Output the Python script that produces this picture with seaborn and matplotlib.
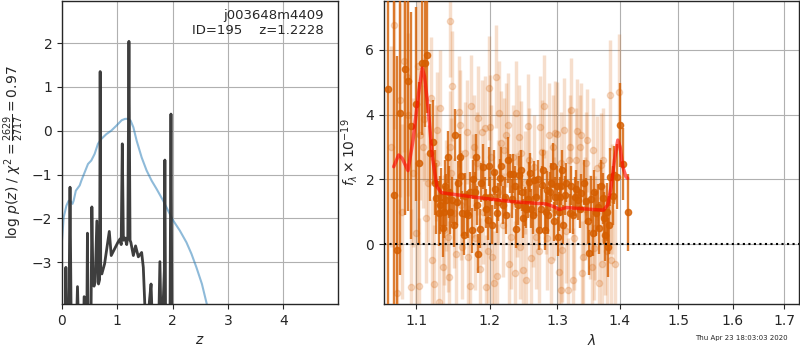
import numpy as np
import pandas as pd
import matplotlib
matplotlib.use("Agg")
import matplotlib.pyplot as plt
import seaborn as sns
from matplotlib.ticker import FormatStrFormatter, NullFormatter, NullLocator

# ---------------- data: left panel (redshift PDF) ----------------
z_pdf = [0.00, 0.05, 0.07, 0.09, 0.12, 0.145, 0.17, 0.25, 0.28, 0.31, 0.38, 0.40, 0.43,
         0.445, 0.46, 0.475, 0.52, 0.54, 0.56, 0.58, 0.60, 0.63, 0.66, 0.68, 0.69, 0.70,
         0.72, 0.77, 0.855, 0.89, 0.95, 1.01, 1.05, 1.07, 1.09, 1.11, 1.14, 1.17, 1.19,
         1.21, 1.23, 1.245, 1.29, 1.33, 1.38, 1.44, 1.47, 1.53, 1.58, 1.61, 1.65, 1.74,
         1.77, 1.80, 1.83, 1.85, 1.86, 1.875, 1.90, 1.95, 1.97, 1.99, 2.01, 2.6, 5.0]
logp = [-5.0, -5.0, -3.12, -5.0, -5.0, -1.29, -5.0, -5.0, -3.56, -5.0, -5.0, -3.79, -3.85,
        -5.0, -2.34, -5.0, -5.0, -1.74, -3.50, -3.55, -3.45, -2.06, -3.50, -3.40, 1.35, -3.20,
        -3.27, -3.04, -2.30, -2.85, -2.70, -2.55, -2.47, -2.60, -0.30, -2.50, -2.45, -2.60, -2.40,
        2.04, -2.50, -2.55, -2.85, -2.63, -2.88, -2.78, -3.12, -5.0, -3.90, -3.50, -5.0, -5.0,
        -2.99, -5.0, -3.90, -3.20, -0.67, -5.0, -5.0, -5.0, 0.38, -5.0, -5.0, -5.0, -5.0]

z_chi = [0.00, 0.03, 0.08, 0.12, 0.16, 0.19, 0.21, 0.25, 0.32, 0.35, 0.41, 0.47, 0.53,
         0.59, 0.65, 0.71, 0.80, 0.89, 0.98, 1.08, 1.14, 1.20, 1.24, 1.29, 1.35, 1.44,
         1.53, 1.62, 1.71, 1.83, 1.92, 2.01, 2.13, 2.25, 2.34, 2.43, 2.53, 2.62, 2.70]
chi_scaled = [-2.50, -1.98, -1.71, -1.60, -1.62, -1.67, -1.60, -1.37, -1.25, -1.14, -0.95,
              -0.76, -0.68, -0.53, -0.30, -0.19, -0.08, 0.00, 0.11, 0.24, 0.27, 0.27, 0.23,
              0.08, -0.23, -0.61, -0.91, -1.14, -1.33, -1.60, -1.83, -2.05, -2.28, -2.55,
              -2.81, -3.12, -3.50, -3.97, -4.60]

# ---------------- data: right panel (spectrum) ----------------
# darker points
wave_a = [1.0641, 1.0712, 1.0754, 1.0797, 1.0861, 1.0895, 1.0930, 1.0995, 1.1038, 1.1073,
          1.1112, 1.1143, 1.1178, 1.1222, 1.1266, 1.1302, 1.1333, 1.1365, 1.1400, 1.1423,
          1.1454, 1.1482, 1.1518, 1.1559, 1.1582, 1.1614, 1.1637, 1.1683, 1.1720, 1.1747,
          1.1789, 1.1812, 1.1840, 1.1859, 1.1906, 1.1934, 1.1976, 1.2009, 1.2061, 1.2104,
          1.2142, 1.2190, 1.2219, 1.2262, 1.2296, 1.2335, 1.2384, 1.2423, 1.2472, 1.2506,
          1.2531, 1.2566, 1.2605, 1.2645, 1.2680, 1.2720, 1.2765, 1.2806, 1.2846, 1.2882,
          1.2932, 1.2968, 1.3009, 1.3045, 1.3076, 1.3112, 1.3190, 1.3268, 1.3320, 1.3372,
          1.3452, 1.3505, 1.3558, 1.3611, 1.3638, 1.3719, 1.3762, 1.3800, 1.3843, 1.3910,
          1.3954, 1.4008, 1.4047, 1.4131,
          1.1250, 1.1318, 1.1350, 1.1385, 1.1440, 1.1500, 1.1540, 1.1600, 1.1660, 1.1700,
          1.1770, 1.1825, 1.1880, 1.1955, 1.1990, 1.2035, 1.2080, 1.2120, 1.2165, 1.2240,
          1.2315, 1.2360, 1.2405, 1.2450, 1.2490, 1.2550, 1.2590, 1.2625, 1.2700, 1.2745,
          1.2785, 1.2825, 1.2865, 1.2905, 1.2950, 1.2990, 1.3028, 1.3060, 1.3095, 1.3140,
          1.3210, 1.3245, 1.3295, 1.3350, 1.3410, 1.3480, 1.3530, 1.3585, 1.3665, 1.3690,
          1.3740, 1.3780, 1.3820, 1.3880]
flux_a = [4.78, 1.51, -0.19, 4.06, 5.41, 5.02, 3.65, 4.33, 2.49, 5.58,
          5.60, 5.84, 2.82, 3.16, 1.41, 0.95, 1.46, 1.00, 1.36, 2.70,
          1.00, 1.36, 3.37, 1.88, 2.70, 0.95, 0.28, 0.95, 1.62, 0.43,
          1.62, 2.70, -0.29, 0.48, 2.39, 1.46, 0.74, 1.46, 2.22, 0.95,
          2.03, 1.21, 1.46, 2.60, 2.18, 2.18, 0.48, 2.13, 1.62, 1.15,
          1.10, 1.93, 1.10, 1.98, 1.46, 0.43, 1.82, 0.43, 1.67, 1.62,
          2.42, 1.46, 0.23, 1.46, 2.29, 1.51, 0.95, 1.46, 1.36, 1.57,
          1.33, -0.26, 0.33, 0.95, 1.15, 1.41, 0.28, -0.10, 2.08, 2.13,
          2.08, 3.68, 2.47, 0.98,
          1.90, 1.20, 0.50, 1.80, 1.60, 0.60, 1.30, 2.10, 1.50, 0.90,
          2.00, 1.20, 1.90, 1.10, 2.40, 0.60, 1.70, 1.30, 2.40, 0.90,
          1.40, 1.80, 1.20, 2.30, 0.80, 1.40, 2.20, 0.90, 2.00, 1.10,
          2.30, 1.00, 0.90, 1.90, 0.70, 1.80, 1.00, 1.80, 0.60, 1.90,
          1.80, 0.90, 1.70, 1.10, 1.90, 0.70, 1.40, 1.60, 0.50, 1.80,
          0.80, 1.00, 0.60, 1.50]
err_a = [7.0, 6.0, 6.0, 5.0, 4.5, 4.0, 3.5, 3.0, 2.5, 2.2,
         2.0, 1.8, 1.5, 1.3, 1.1, 1.0, 0.9, 0.8, 0.8, 0.8,
         0.7, 0.7, 0.8, 0.7, 0.7, 0.7, 0.6, 0.7, 0.6, 0.7,
         0.6, 0.7, 0.6, 0.6, 0.7, 0.6, 0.6, 0.6, 0.7, 0.6,
         0.6, 0.6, 0.6, 0.7, 0.6, 0.6, 0.6, 0.6, 0.6, 0.6,
         0.6, 0.6, 0.6, 0.6, 0.6, 0.6, 0.6, 0.6, 0.6, 0.6,
         0.7, 0.6, 0.6, 0.6, 0.6, 0.6, 0.6, 0.6, 0.6, 0.6,
         0.7, 0.7, 0.7, 0.7, 0.7, 0.8, 0.8, 0.9, 0.9, 0.9,
         1.0, 1.3, 1.1, 1.2,
         1.0, 0.9, 0.9, 0.8, 0.8, 0.7, 0.7, 0.7, 0.7, 0.7,
         0.6, 0.6, 0.6, 0.6, 0.6, 0.6, 0.6, 0.6, 0.6, 0.6,
         0.6, 0.6, 0.6, 0.6, 0.6, 0.6, 0.6, 0.6, 0.6, 0.6,
         0.6, 0.6, 0.6, 0.6, 0.6, 0.6, 0.6, 0.6, 0.6, 0.6,
         0.6, 0.6, 0.6, 0.6, 0.7, 0.7, 0.7, 0.7, 0.8, 0.8,
         0.8, 0.9, 0.9, 0.9]

# faint points
wave_b = [1.0716, 1.0787, 1.0850, 1.0880, 1.0930, 1.0995, 1.1038, 1.1050, 1.1090, 1.1100,
          1.1160, 1.1240, 1.1280, 1.1300, 1.1355, 1.1370, 1.1420, 1.1450, 1.1455, 1.1480,
          1.1500, 1.1570, 1.1580, 1.1620, 1.1680, 1.1700, 1.1740, 1.1780, 1.1820, 1.1860,
          1.1890, 1.1930, 1.1950, 1.1990, 1.2010, 1.2040, 1.2090, 1.2110, 1.2140, 1.2160,
          1.2230, 1.2260, 1.2310, 1.2370, 1.2380, 1.2420, 1.2460, 1.2480, 1.2550, 1.2600,
          1.2650, 1.2680, 1.2760, 1.2800, 1.2850, 1.2880, 1.2930, 1.2970, 1.3030, 1.3060,
          1.3080, 1.3110, 1.3160, 1.3190, 1.3210, 1.3240, 1.3290, 1.3350, 1.3370, 1.3400,
          1.3450, 1.3510, 1.3580, 1.3630, 1.3660, 1.3690, 1.3760, 1.3830, 1.3850, 1.3990,
          1.0680, 1.0750, 1.0820, 1.0900, 1.0960, 1.1020, 1.1130, 1.1190, 1.1210, 1.1260,
          1.1320, 1.1390, 1.1430, 1.1470, 1.1530, 1.1600, 1.1650, 1.1720, 1.1760, 1.1800,
          1.1840, 1.1910, 1.1970, 1.2020, 1.2060, 1.2120, 1.2190, 1.2210, 1.2280, 1.2330,
          1.2400, 1.2440, 1.2510, 1.2530, 1.2570, 1.2630, 1.2720, 1.2740, 1.2820, 1.2900,
          1.2950, 1.3000, 1.3050, 1.3130, 1.3180, 1.3260, 1.3310, 1.3380, 1.3430, 1.3470,
          1.3540, 1.3560, 1.3600, 1.3700, 1.3730, 1.3790, 1.3870, 1.3920]
flux_b = [6.75, 4.45, 5.64, 5.17, -1.32, 0.33, -1.30, 3.37, 3.01, 3.86,
          1.88, -1.22, 3.52, -1.78, -0.70, 0.43, 0.23, 6.87, 3.01, 4.88,
          0.95, 4.09, 3.68, -0.08, 3.47, -0.39, 4.25, 3.01, 2.49, -0.78,
          3.47, 3.58, -1.32, 4.81, 3.63, -0.39, 5.17, -0.99, 4.04, 3.11,
          3.37, 3.68, 0.23, -0.89, 4.04, 3.32, 2.82, -0.80, 3.65, -0.44,
          2.39, 0.23, 2.85, 4.25, 0.18, 3.37, 3.01, 3.42, -0.86, 2.49,
          -0.19, 3.52, -1.42, 3.01, 4.14, -1.11, 2.60, 3.01, 3.37, -0.39,
          2.49, 0.54, -0.13, 2.34, -1.20, 2.44, 0.12, 4.61, -0.49, 4.69,
          3.00, -1.50, 1.00, 4.00, 2.20, 5.50, 0.80, 4.50, -0.50, 2.50,
          4.20, 1.50, -1.00, 2.20, -0.30, 1.20, 2.80, -1.30, 1.80, 0.20,
          3.90, 1.00, -0.20, 2.70, -1.20, 1.60, 0.60, 2.90, -0.60, 2.70,
          1.20, -0.10, 1.90, -1.10, 2.60, 0.90, -0.20, 3.60, 1.30, -0.50,
          1.10, 3.40, -1.40, 0.40, 2.60, 0.20, 3.50, -0.90, 1.10, 3.20,
          -0.70, 2.90, 0.50, -0.60, 2.60, -0.20, 1.40, -0.60]
err_b = [3.2, 3.0, 2.8, 2.6, 2.4, 2.2, 2.1, 2.0, 1.9, 1.9,
         1.8, 1.8, 1.8, 1.8, 1.7, 1.7, 1.7, 1.7, 1.7, 1.7,
         1.7, 1.7, 1.7, 1.6, 1.6, 1.6, 1.6, 1.6, 1.6, 1.6,
         1.6, 1.6, 1.6, 1.6, 1.6, 1.6, 1.6, 1.6, 1.6, 1.6,
         1.6, 1.6, 1.6, 1.6, 1.6, 1.6, 1.6, 1.6, 1.6, 1.6,
         1.6, 1.6, 1.6, 1.6, 1.6, 1.6, 1.6, 1.6, 1.6, 1.6,
         1.6, 1.6, 1.6, 1.6, 1.6, 1.6, 1.6, 1.6, 1.6, 1.6,
         1.6, 1.6, 1.6, 1.6, 1.6, 1.6, 1.7, 1.7, 1.7, 1.8,
         3.1, 2.9, 2.7, 2.5, 2.3, 2.2, 2.0, 1.9, 1.9, 1.8,
         1.8, 1.7, 1.7, 1.7, 1.7, 1.7, 1.6, 1.6, 1.6, 1.6,
         1.6, 1.6, 1.6, 1.6, 1.6, 1.6, 1.6, 1.6, 1.6, 1.6,
         1.6, 1.6, 1.6, 1.6, 1.6, 1.6, 1.6, 1.6, 1.6, 1.6,
         1.6, 1.6, 1.6, 1.6, 1.6, 1.6, 1.6, 1.6, 1.6, 1.6,
         1.6, 1.6, 1.6, 1.6, 1.6, 1.7, 1.7, 1.7]

model_wave = [1.0712, 1.0775, 1.0820, 1.0895, 1.0960, 1.1038, 1.1080, 1.1110, 1.1160,
              1.1213, 1.1275, 1.1333, 1.1490, 1.1860, 1.2335, 1.2830, 1.2930, 1.3035,
              1.3140, 1.3346, 1.3560, 1.3730, 1.3800, 1.3855, 1.3910, 1.3965, 1.4003,
              1.4047, 1.4100, 1.4130]
model_flux = [2.39, 2.75, 2.65, 2.27, 3.21, 4.76, 5.43, 5.17, 4.14,
              2.70, 1.77, 1.59, 1.54, 1.43, 1.31, 1.24, 1.17, 1.07,
              1.13, 1.10, 1.07, 1.05, 1.21, 1.77, 2.60, 3.21, 3.00,
              2.39, 2.08, 2.03]

title_root = "j003648m4409"
title_id = "ID=195    z=1.2228"
timestamp = "Thu Apr 23 18:03:03 2020"

# ---------------- plotting ----------------
sns.set_style("ticks")
plt.rcParams['font.family'] = ['DejaVu Sans']

fig = plt.figure(figsize=(8, 3.5), dpi=100)
ax1 = fig.add_axes([0.0775, 0.131, 0.345, 0.866])
ax2 = fig.add_axes([0.48, 0.131, 0.5185, 0.866])

df_p = pd.DataFrame({"z": z_pdf, "logp": logp})
df_c = pd.DataFrame({"z": z_chi, "chi": chi_scaled})
sns.lineplot(data=df_c, x="z", y="chi", ax=ax1, color="#1f77b4", alpha=0.5,
             linewidth=1.5, estimator=None, sort=False)
sns.lineplot(data=df_p, x="z", y="logp", ax=ax1, color="0.2", alpha=0.95,
             linewidth=2, estimator=None, sort=False)
ax1.set_xlim(0, 4.99)
ax1.set_ylim(-3.96, 2.96)
ax1.set_xticks([0, 1, 2, 3, 4])
ax1.set_yticks([-3, -2, -1, 0, 1, 2])
ax1.grid(True, color="#b0b0b0", linewidth=0.8)
ax1.set_xlabel("$z$")
ax1.set_ylabel(r"log $p(z)$ / $\chi^2=\frac{2629}{2717}=0.97$")
ax1.text(0.95, 0.975, title_root + "\n" + title_id, transform=ax1.transAxes,
         ha="right", va="top", fontsize=9.5)

g141 = (0.8352941, 0.3686275, 0.0)
ax2.errorbar(wave_b, flux_b, yerr=err_b, fmt="o", color=g141, alpha=0.2,
             markersize=4.5, elinewidth=2.5, capsize=0, zorder=2)
ax2.errorbar(wave_a, flux_a, yerr=err_a, fmt="o", color=g141, alpha=0.8,
             markersize=4.5, elinewidth=1.7, capsize=0, zorder=3)
df_m = pd.DataFrame({"w": model_wave, "f": model_flux})
sns.lineplot(data=df_m, x="w", y="f", ax=ax2, color="r", alpha=0.6,
             linewidth=2.5, estimator=None, sort=False, zorder=4)
ax2.axhline(0, color="k", linestyle=":", linewidth=1.5, zorder=5)

ax2.set_xscale("log")
ax2.set_xlim(1.059, 1.730)
ax2.set_ylim(-1.85, 7.5)
ax2.xaxis.set_minor_locator(NullLocator())
ax2.xaxis.set_minor_formatter(NullFormatter())
ax2.set_xticks([1.1, 1.2, 1.3, 1.4, 1.5, 1.6, 1.7])
ax2.xaxis.set_major_formatter(FormatStrFormatter("%.1f"))
ax2.set_yticks([0, 2, 4, 6])
ax2.grid(True, color="#b0b0b0", linewidth=0.8)
ax2.set_xlabel(r"$\lambda$")
ax2.set_ylabel(r"$f_\lambda \times 10^{-19}$")

for ax in (ax1, ax2):
    for s in ax.spines.values():
        s.set_linewidth(1.0)
        s.set_visible(True)

fig.text(0.984, 0.025, timestamp, ha="right", va="bottom", fontsize=5)

fig.savefig("out.png", dpi=100)
